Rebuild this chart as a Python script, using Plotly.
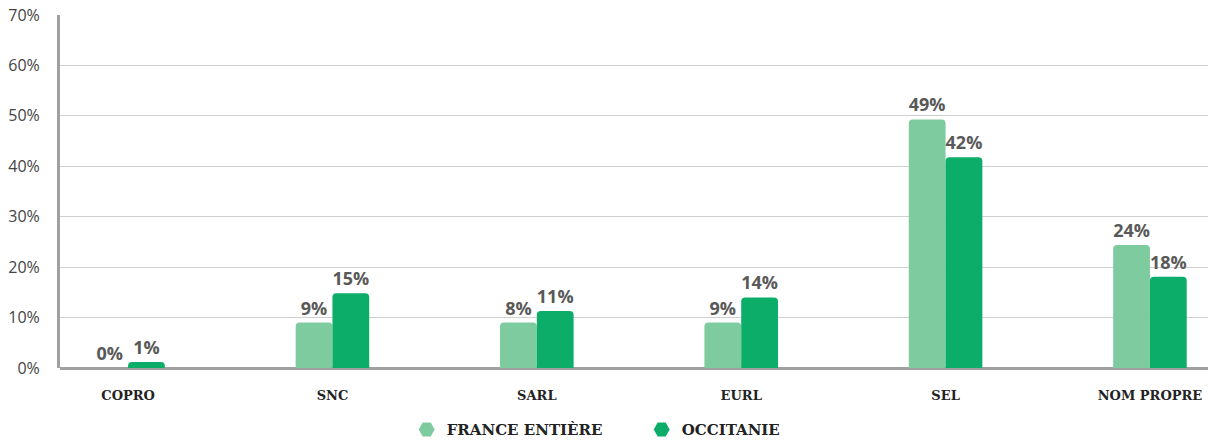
import plotly.graph_objects as go

categories = ["COPRO", "SNC", "SARL", "EURL", "SEL", "NOM PROPRE"]
france = [0, 9.0, 9.0, 9.0, 49.3, 24.4]
occitanie = [1.2, 14.8, 11.3, 14.0, 41.8, 18.1]
france_labels = ["0%", "9%", "8%", "9%", "49%", "24%"]
occitanie_labels = ["1%", "15%", "11%", "14%", "42%", "18%"]
series_names = ["FRANCE ENTIÈRE", "OCCITANIE"]
colors = ["#7FCBA0", "#0BAD69"]
yticks = [0, 10, 20, 30, 40, 50, 60, 70]

fig = go.Figure()
for name, vals, labs, col in zip(series_names, [france, occitanie],
                                 [france_labels, occitanie_labels], colors):
    fig.add_trace(go.Bar(
        x=categories, y=vals, name=name, marker_color=col,
        marker_line_width=0, showlegend=False,
        text=labs, texttemplate="%{text}", textposition="outside",
        textfont=dict(family="Open Sans", size=18, color="#595959", weight="bold"),
        cliponaxis=False,
    ))
for name, col in zip(series_names, colors):
    fig.add_trace(go.Scatter(
        x=[None], y=[None], mode="markers", name=name,
        marker=dict(symbol="hexagon2", color=col, size=16),
    ))

fig.update_layout(
    width=1208, height=441,
    margin=dict(l=60, r=0, t=15, b=73, autoexpand=False),
    paper_bgcolor="white", plot_bgcolor="white",
    barmode="group", bargap=0.64, bargroupgap=0,
    barcornerradius=4,
    font=dict(family="Open Sans", color="#444"),
    xaxis=dict(
        range=[-0.333, 5.284], showgrid=False, showline=False,
        tickfont=dict(family="DejaVu Serif", size=13, color="#222", weight="bold"),
        ticks="", ticklabelstandoff=18, automargin=False,
    ),
    yaxis=dict(
        range=[0, 70], tickvals=yticks, ticktext=[f"{v}%" for v in yticks],
        showgrid=True, gridcolor="#cfcfcf", gridwidth=1,
        showline=True, linecolor="#a0a0a0", linewidth=3,
        zeroline=True, zerolinecolor="#a0a0a0", zerolinewidth=3,
        tickfont=dict(family="Open Sans", size=16, color="#444"),
        ticks="", ticklabelstandoff=14, automargin=False,
    ),
    legend=dict(
        orientation="h", x=0.302, xanchor="left", y=-0.175, yanchor="middle",
        font=dict(family="DejaVu Serif", size=15, color="#222", weight="bold"),
        entrywidth=190, entrywidthmode="pixels",
        itemsizing="trace",
    ),
)

fig.write_html(
    "out.html",
    config={"displayModeBar": False},
    post_script="document.body.style.margin='0';document.body.style.overflow='hidden';",
)
